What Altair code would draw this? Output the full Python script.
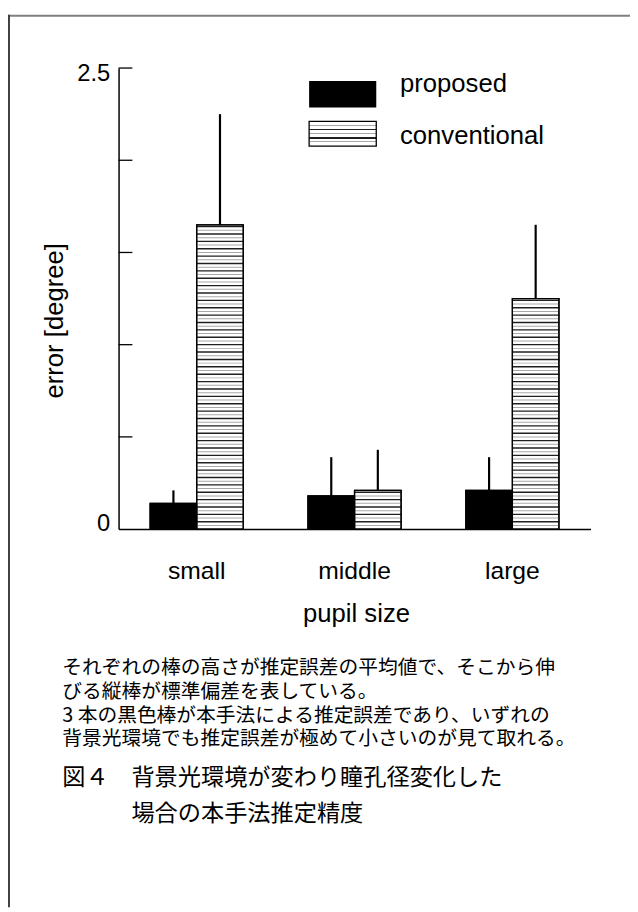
import altair as alt
import pandas as pd

# ---------------- data ----------------
categories = ["small", "middle", "large"]
series_names = ["proposed", "conventional"]
proposed_mean = [0.14, 0.18, 0.21]
proposed_sd = [0.07, 0.21, 0.18]
conventional_mean = [1.65, 0.21, 1.25]
conventional_sd = [0.60, 0.22, 0.40]
y_tick_values = [0.5, 1.0, 1.5, 2.0, 2.5]
y_label_values = [0, 2.5]
x_title = "pupil size"
y_title = "error [degree]"
note_lines = [
    "それぞれの棒の高さが推定誤差の平均値で、そこから伸",
    "びる縦棒が標準偏差を表している。",
    "3 本の黒色棒が本手法による推定誤差であり、いずれの",
    "背景光環境でも推定誤差が極めて小さいのが見て取れる。",
]
fig_label = "図４"
fig_caption = ["背景光環境が変わり瞳孔径変化した", "場合の本手法推定精度"]

LATIN = "Liberation Sans"
CJK = "Noto Sans CJK JP"

rows = []
for i, c in enumerate(categories):
    rows.append({"size": c, "series": "proposed", "mean": proposed_mean[i],
                 "top": proposed_mean[i] + proposed_sd[i]})
    rows.append({"size": c, "series": "conventional", "mean": conventional_mean[i],
                 "top": conventional_mean[i] + conventional_sd[i]})
df = pd.DataFrame(rows)

# horizontal hatch pattern inside the conventional bars (styling only)
HATCH = 0.02
hatch_rows = []
for i, c in enumerate(categories):
    m = conventional_mean[i]
    k = 1
    while k * HATCH < m - HATCH * 0.4:
        hatch_rows.append({"size": c, "series": "conventional", "h": k * HATCH,
                           "shade": "dark" if k % 2 == 0 else "light"})
        k += 1
hatch_df = pd.DataFrame(hatch_rows)

# ---------------- shared encodings ----------------
x_scale = alt.Scale(domain=categories, paddingInner=0.41, paddingOuter=0.2)
xo_scale = alt.Scale(domain=series_names, paddingInner=0, paddingOuter=0)
y_scale = alt.Scale(domain=[0, 2.5], nice=False, zero=True)

x_axis = alt.Axis(title=None, ticks=False, tickSize=0, labelAngle=0,
                  labelFont=LATIN, labelFontSize=25, labelColor="black",
                  labelPadding=42, labelBaseline="middle",
                  domainColor="black", domainWidth=1.5, grid=False)
y_axis = alt.Axis(title=None, values=y_label_values, ticks=False, tickSize=0,
                  labelExpr="datum.value == 0 ? '0' : format(datum.value, '.1f')",
                  labelFont=LATIN, labelFontSize=24, labelColor="black",
                  labelPadding=9, labelFlush=True, labelFlushOffset=6,
                  domainColor="black", domainWidth=1.5, grid=False)


def X():
    return alt.X("size:N", scale=x_scale, axis=x_axis, sort=categories)


def XO():
    return alt.XOffset("series:N", scale=xo_scale, sort=series_names)


def Y(field):
    return alt.Y(field, scale=y_scale, axis=y_axis)


base = alt.Chart(df)

bars = base.mark_bar(stroke="black", strokeWidth=1.3).encode(
    x=X(), xOffset=XO(), y=Y("mean:Q"),
    fill=alt.Fill("series:N", scale=alt.Scale(domain=series_names,
                                              range=["black", "white"]), legend=None),
)

hatch_light = alt.Chart(hatch_df).transform_filter("datum.shade == 'light'").mark_tick(
    orient="horizontal", size=46, thickness=1, color="#a8a8a8", opacity=1
).encode(x=X(), xOffset=XO(), y=Y("h:Q"))

hatch_dark = alt.Chart(hatch_df).transform_filter("datum.shade == 'dark'").mark_tick(
    orient="horizontal", size=48, thickness=1.4, color="#202020", opacity=1
).encode(x=X(), xOffset=XO(), y=Y("h:Q"))

outline = base.mark_bar(fillOpacity=0, stroke="black", strokeWidth=1.3).encode(
    x=X(), xOffset=XO(), y=Y("mean:Q"),
)

errs = base.mark_rule(color="black", strokeWidth=2.2).encode(
    x=X(), xOffset=XO(), y=Y("mean:Q"), y2="top:Q",
)

yticks = alt.Chart(pd.DataFrame({"v": y_tick_values})).mark_rule(
    color="black", strokeWidth=1.3
).encode(x=alt.value(0), x2=alt.value(14), y=Y("v:Q"))

one = pd.DataFrame({"k": [0]})

y_title_mark = alt.Chart(one).mark_text(
    font=LATIN, fontSize=26, angle=270, align="center", baseline="middle", color="black"
).encode(x=alt.value(-64), y=alt.value(256), text=alt.value(y_title))

x_title_mark = alt.Chart(one).mark_text(
    font=LATIN, fontSize=26, align="center", baseline="middle", color="black"
).encode(x=alt.value(241), y=alt.value(553), text=alt.value(x_title))

# legend
leg_black = alt.Chart(one).mark_rect(fill="black").encode(
    x=alt.value(193), x2=alt.value(261), y=alt.value(13), y2=alt.value(40))


def stripe_stops(stripes, t):
    stops = [{"offset": 0, "color": "white"}]
    for f, col in stripes:
        stops += [{"offset": f - t / 2, "color": "white"},
                  {"offset": f - t / 2, "color": col},
                  {"offset": f + t / 2, "color": col},
                  {"offset": f + t / 2, "color": "white"}]
    stops.append({"offset": 1, "color": "white"})
    return stops


leg_grad = {
    "gradient": "linear", "x1": 0, "y1": 0, "x2": 0, "y2": 1,
    "stops": stripe_stops([(0.17, "#a8a8a8"), (0.33, "#202020"), (0.5, "#a8a8a8"),
                           (0.67, "#202020"), (0.83, "#a8a8a8")], 0.05),
}
leg_striped = alt.Chart(one).mark_rect(fill=leg_grad, stroke="black", strokeWidth=1.3).encode(
    x=alt.value(193), x2=alt.value(261), y=alt.value(54), y2=alt.value(79))

leg_text1 = alt.Chart(one).mark_text(
    font=LATIN, fontSize=26, align="left", baseline="alphabetic", color="black"
).encode(x=alt.value(285), y=alt.value(24), text=alt.value(series_names[0]))
leg_text2 = alt.Chart(one).mark_text(
    font=LATIN, fontSize=26, align="left", baseline="alphabetic", color="black"
).encode(x=alt.value(285), y=alt.value(77), text=alt.value(series_names[1]))

# notes and caption (first line of each block is placed at its y)
note_mark = alt.Chart(one).mark_text(
    font=CJK, fontSize=20, align="left", baseline="middle", lineHeight=24, color="black"
).encode(x=alt.value(-57), y=alt.value(608), text=alt.value(note_lines))

fig_label_mark = alt.Chart(one).mark_text(
    font=CJK, fontSize=23.5, align="left", baseline="middle", color="black"
).encode(x=alt.value(-57), y=alt.value(719), text=alt.value(fig_label))

fig_caption_mark = alt.Chart(one).mark_text(
    font=CJK, fontSize=23.5, align="left", baseline="middle", lineHeight=37, color="black"
).encode(x=alt.value(13), y=alt.value(719), text=alt.value(fig_caption))

# page frame (top and left edges)
frame_top = alt.Chart(one).mark_rule(color="#808080", strokeWidth=2).encode(
    x=alt.value(-112), x2=alt.value(520), y=alt.value(-53))
frame_left = alt.Chart(one).mark_rule(color="#404040", strokeWidth=2).encode(
    x=alt.value(-111), y=alt.value(-54), y2=alt.value(850))

chart = alt.layer(
    bars, hatch_light, hatch_dark, outline, errs, yticks,
    y_title_mark, x_title_mark,
    leg_black, leg_striped, leg_text1, leg_text2,
    note_mark, fig_label_mark, fig_caption_mark,
    frame_top, frame_left,
).properties(
    width=478, height=467,
    padding={"left": 112, "top": 55, "right": 40, "bottom": 382},
    autosize=alt.AutoSizeParams(type="none"),
    background="white",
).configure_view(stroke=None)

chart.save("out.html", embed_options={"renderer": "svg", "actions": False})
